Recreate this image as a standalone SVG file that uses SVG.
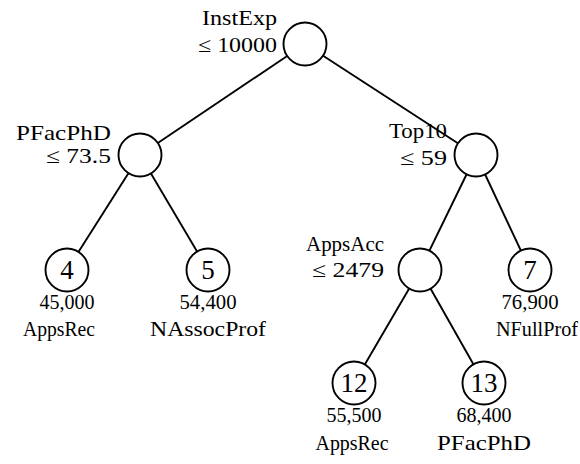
<svg xmlns="http://www.w3.org/2000/svg" width="580" height="464" viewBox="0 0 580 464">
<style>
.n{fill:#fff;stroke:#000;stroke-width:1.9}
.e{stroke:#000;stroke-width:1.9}
text{font-family:"Liberation Serif","DejaVu Serif",serif;font-size:21px;fill:#000}
.r{text-anchor:end}
.c{text-anchor:middle}
.big{font-size:27px;text-anchor:middle}
</style>
<rect width="580" height="464" fill="#fff"/>
<g id="edges">
<line class="e" x1="305" y1="44" x2="140" y2="155"/>
<line class="e" x1="305" y1="44" x2="476" y2="155"/>
<line class="e" x1="140" y1="155" x2="67" y2="270"/>
<line class="e" x1="140" y1="155" x2="208" y2="270"/>
<line class="e" x1="476" y1="155" x2="420" y2="270"/>
<line class="e" x1="476" y1="155" x2="530" y2="270"/>
<line class="e" x1="420" y1="270" x2="354" y2="383"/>
<line class="e" x1="420" y1="270" x2="484" y2="383"/>
</g>
<g id="root">
<circle class="n" cx="305" cy="44" r="21.5"/>
<text class="r" x="277" y="25" textLength="75" lengthAdjust="spacingAndGlyphs">InstExp</text>
<text class="r" x="277" y="52" textLength="79" lengthAdjust="spacingAndGlyphs">≤ 10000</text>
</g>
<g id="pfacphd">
<circle class="n" cx="140" cy="155" r="21.5"/>
<text class="r" x="111" y="140" textLength="95" lengthAdjust="spacingAndGlyphs">PFacPhD</text>
<text class="r" x="111" y="163" textLength="65" lengthAdjust="spacingAndGlyphs">≤ 73.5</text>
</g>
<g id="top10">
<circle class="n" cx="476" cy="155" r="21.5"/>
<text class="r" x="447" y="138" textLength="58" lengthAdjust="spacingAndGlyphs">Top10</text>
<text class="r" x="447" y="165" textLength="47" lengthAdjust="spacingAndGlyphs">≤ 59</text>
</g>
<g id="appsacc">
<circle class="n" cx="420" cy="270" r="21.5"/>
<text class="r" x="384" y="251" textLength="78" lengthAdjust="spacingAndGlyphs">AppsAcc</text>
<text class="r" x="384" y="277" textLength="72" lengthAdjust="spacingAndGlyphs">≤ 2479</text>
</g>
<g id="leaf4">
<circle class="n" cx="67" cy="270" r="21.5"/>
<text class="big" x="67" y="279">4</text>
<text class="c" x="67" y="309" textLength="55" lengthAdjust="spacingAndGlyphs">45,000</text>
<text class="c" x="59" y="336" textLength="72" lengthAdjust="spacingAndGlyphs">AppsRec</text>
</g>
<g id="leaf5">
<circle class="n" cx="208" cy="270" r="21.5"/>
<text class="big" x="208" y="279">5</text>
<text class="c" x="208" y="309" textLength="57" lengthAdjust="spacingAndGlyphs">54,400</text>
<text class="c" x="208" y="336" textLength="116" lengthAdjust="spacingAndGlyphs">NAssocProf</text>
</g>
<g id="leaf7">
<circle class="n" cx="530" cy="270" r="21.5"/>
<text class="big" x="530" y="279">7</text>
<text class="c" x="530" y="309" textLength="57" lengthAdjust="spacingAndGlyphs">76,900</text>
<text class="c" x="537" y="336" textLength="82" lengthAdjust="spacingAndGlyphs">NFullProf</text>
</g>
<g id="leaf12">
<circle class="n" cx="354" cy="383" r="21.5"/>
<text class="big" x="354" y="392">12</text>
<text class="c" x="354" y="422" textLength="55" lengthAdjust="spacingAndGlyphs">55,500</text>
<text class="c" x="352" y="450" textLength="73" lengthAdjust="spacingAndGlyphs">AppsRec</text>
</g>
<g id="leaf13">
<circle class="n" cx="484" cy="383" r="21.5"/>
<text class="big" x="484" y="392">13</text>
<text class="c" x="484" y="422" textLength="55" lengthAdjust="spacingAndGlyphs">68,400</text>
<text class="c" x="484" y="450" textLength="94" lengthAdjust="spacingAndGlyphs">PFacPhD</text>
</g>
</svg>
